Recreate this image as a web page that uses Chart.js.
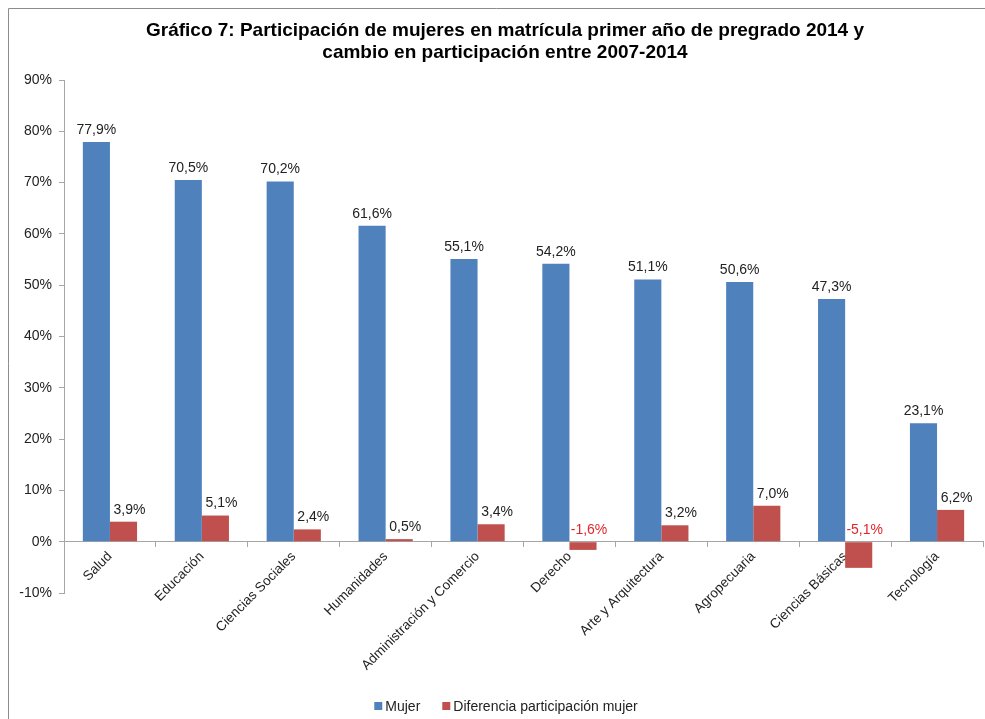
<!DOCTYPE html>
<html>
<head>
<meta charset="utf-8">
<script src="https://cdn.jsdelivr.net/npm/chart.js@4"></script>
<style>
  html, body { margin: 0; padding: 0; background: #fff; }
</style>
</head>
<body>
<canvas id="chart" width="985" height="719"></canvas>
<script>
// data (percent)
const categories = ['Salud', 'Educación', 'Ciencias Sociales', 'Humanidades', 'Administración y Comercio',
  'Derecho', 'Arte y Arquitectura', 'Agropecuaria', 'Ciencias Básicas', 'Tecnología'];
const mujer = [77.9, 70.5, 70.2, 61.6, 55.1, 54.2, 51.1, 50.6, 47.3, 23.1];
const diferencia = [3.9, 5.1, 2.4, 0.5, 3.4, -1.6, 3.2, 7.0, -5.1, 6.2];
const titleLines = ['Gráfico 7: Participación de mujeres en matrícula primer año de pregrado 2014 y',
  'cambio en participación entre 2007-2014'];

const FONT = '"Liberation Sans", Arial, sans-serif';
const AXIS = '#a6a6a6';
const fmt = v => v.toFixed(1).replace('.', ',') + '%';

// border, title, value labels and legend
const extras = {
  id: 'extras',
  beforeDraw(chart) {
    const c = chart.ctx;
    c.save();
    c.strokeStyle = '#8c8c8c';
    c.lineWidth = 1;
    c.beginPath();
    c.moveTo(8.5, chart.height);
    c.lineTo(8.5, 8.5);
    c.lineTo(chart.width, 8.5);
    c.stroke();
    c.fillStyle = '#000';
    c.font = 'bold 19px ' + FONT;
    c.textAlign = 'center';
    c.textBaseline = 'middle';
    titleLines.forEach((t, i) => c.fillText(t, 505, 31 + i * 22));
    c.restore();
  },
  afterDatasetsDraw(chart) {
    const c = chart.ctx;
    const zeroY = chart.scales.y.getPixelForValue(0);
    c.save();
    c.font = '14px ' + FONT;
    c.textAlign = 'center';
    c.textBaseline = 'bottom';
    chart.data.datasets.forEach((ds, i) => {
      chart.getDatasetMeta(i).data.forEach((bar, j) => {
        const v = ds.data[j];
        c.fillStyle = v < 0 ? '#e3262b' : '#222';
        c.fillText(fmt(v), bar.x + (i === 1 ? 6 : 0), Math.min(bar.y, zeroY) - 5);
      });
    });
    c.restore();
  },
  afterDraw(chart) {
    const c = chart.ctx;
    c.save();
    c.font = '14px ' + FONT;
    c.textBaseline = 'middle';
    const items = chart.data.datasets.map(ds => ({ text: ds.label, color: ds.backgroundColor }));
    const widths = items.map(it => 8 + 3 + c.measureText(it.text).width);
    const total = widths.reduce((a, b) => a + b, 0) + 22 * (items.length - 1);
    let x = 506 - total / 2;
    const y = 706;
    items.forEach((it, k) => {
      c.fillStyle = it.color;
      c.fillRect(x, y - 4, 8, 8);
      c.fillStyle = '#222';
      c.fillText(it.text, x + 11, y + 1);
      x += widths[k] + 22;
    });
    c.restore();
  }
};

new Chart(document.getElementById('chart').getContext('2d'), {
  type: 'bar',
  data: {
    labels: categories,
    datasets: [
      { label: 'Mujer', data: mujer, backgroundColor: '#4f81bd' },
      { label: 'Diferencia participación mujer', data: diferencia, backgroundColor: '#c0504d' }
    ]
  },
  options: {
    responsive: false,
    animation: false,
    layout: { padding: { left: 10, right: 2, top: 80, bottom: 126 } },
    datasets: { bar: { categoryPercentage: 0.59, barPercentage: 1.0 } },
    plugins: {
      legend: { display: false },
      tooltip: { enabled: false },
      title: { display: false }
    },
    scales: {
      x: {
        position: { y: 0 },
        grid: { drawOnChartArea: false, drawTicks: true, tickLength: 5, color: AXIS },
        border: { color: AXIS },
        ticks: { color: '#222', font: { family: FONT, size: 13.5 }, minRotation: 45, maxRotation: 45, padding: 2 }
      },
      y: {
        min: -10,
        max: 90,
        afterFit: s => { s.width = 54; },
        grid: { drawOnChartArea: false, drawTicks: true, tickLength: 5, color: AXIS },
        border: { color: AXIS },
        ticks: { stepSize: 10, color: '#222', padding: 7, font: { family: FONT, size: 14 }, callback: v => v + '%' }
      }
    }
  },
  plugins: [extras]
});
</script>
</body>
</html>
